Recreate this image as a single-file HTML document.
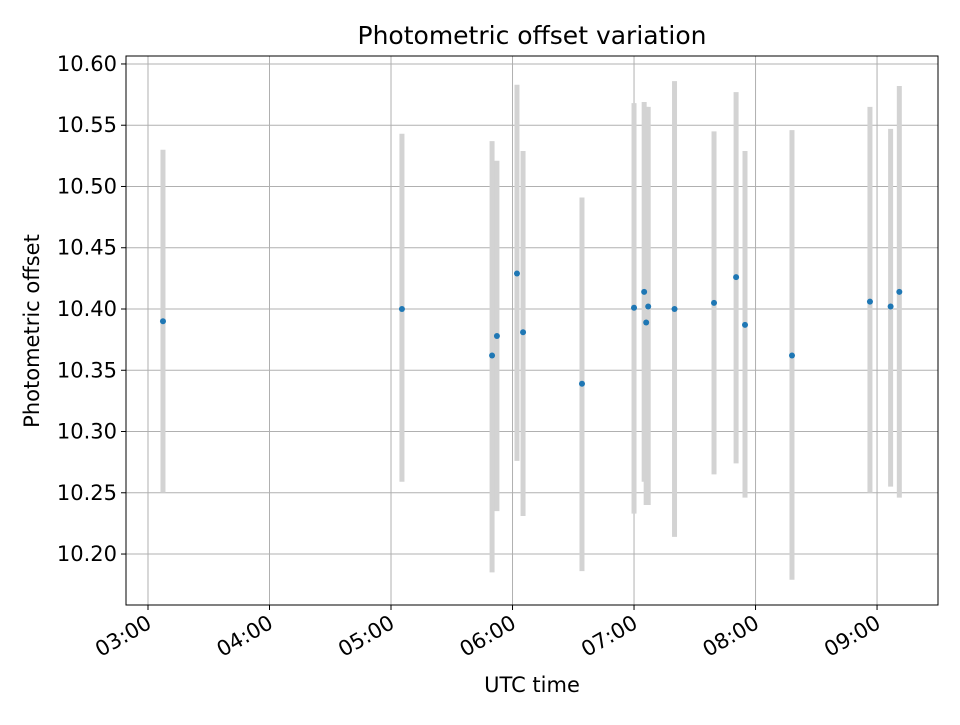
<!DOCTYPE html>
<html><head><meta charset="utf-8"><style>
body{margin:0;background:#fff;font-family:"Liberation Sans","DejaVu Sans",sans-serif}
</style></head><body>
<svg id="c" width="960" height="720" xmlns="http://www.w3.org/2000/svg" font-family="DejaVu Sans, Liberation Sans, sans-serif">
<rect width="960" height="720" fill="#fff"/>
<g id="grid"></g><g id="bars"></g><g id="pts"></g><g id="axes"></g>
<text x="532" y="44" text-anchor="middle" font-size="25">Photometric offset variation</text>
<text x="532" y="692" text-anchor="middle" font-size="21">UTC time</text>
<text transform="translate(39,331) rotate(-90)" text-anchor="middle" font-size="21">Photometric offset</text>
</svg>
<script>
// minutes after 03:00
const times=[7.4,125.4,169.9,172.3,182.2,185.2,214.3,240,245,246,247,260,279.5,290.4,294.8,318,356.5,366.7,371];
const values=[10.390,10.400,10.362,10.378,10.429,10.381,10.339,10.401,10.414,10.389,10.402,10.400,10.405,10.426,10.387,10.362,10.406,10.402,10.414];
const errHigh=[10.530,10.543,10.537,10.521,10.583,10.529,10.491,10.568,10.569,10.565,10.565,10.586,10.545,10.577,10.529,10.546,10.565,10.547,10.582];
const errLow=[10.250,10.259,10.185,10.235,10.276,10.231,10.186,10.233,10.259,10.240,10.240,10.214,10.265,10.274,10.246,10.179,10.250,10.255,10.246];
const xTickMin=[0,60,120,180,240,300,360];
const xTickLabels=["03:00","04:00","05:00","06:00","07:00","08:00","09:00"];
const yTicks=[10.20,10.25,10.30,10.35,10.40,10.45,10.50,10.55,10.60];
const L=126,R=938,T=56,B=605;
const xMin=-10.86,xMax=390.1,yMin=10.1584,yMax=10.6065;
const X=m=>L+(m-xMin)/(xMax-xMin)*(R-L);
const Y=v=>B-(v-yMin)/(yMax-yMin)*(B-T);
const NS="http://www.w3.org/2000/svg";
function mk(p,t,a){const e=document.createElementNS(NS,t);for(const k in a)e.setAttribute(k,a[k]);p.appendChild(e);return e;}
const g=document.getElementById('grid'),ax=document.getElementById('axes'),bs=document.getElementById('bars'),ps=document.getElementById('pts');
xTickMin.forEach((m,i)=>{const x=X(m);
 const l=mk(g,'line',{x1:x,x2:x,y1:T,y2:B,stroke:'#b0b0b0','stroke-width':1});
 
 
 mk(ax,'line',{x1:x,x2:x,y1:B,y2:B+5,stroke:'#000'});
 const t=mk(ax,'text',{x:0,y:0,'font-size':21,'text-anchor':'end',transform:`translate(${x+5},${B+22}) rotate(-30)`});
 t.textContent=xTickLabels[i];
 
 
});
yTicks.forEach(v=>{const y=Y(v);
 const l=mk(g,'line',{x1:L,x2:R,y1:y,y2:y,stroke:'#b0b0b0','stroke-width':1});
 
 
 mk(ax,'line',{x1:L-5,x2:L,y1:y,y2:y,stroke:'#000'});
 const t=mk(ax,'text',{x:L-9,y:y+7,'font-size':21,'text-anchor':'end'});
 t.textContent=v.toFixed(2);
 
 
});
mk(ax,'rect',{x:L,y:T,width:R-L,height:B-T,fill:'none',stroke:'#000','stroke-width':1});
times.forEach((m,i)=>{const x=X(m);
 const b=mk(bs,'line',{x1:x,x2:x,y1:Y(errHigh[i]),y2:Y(errLow[i]),stroke:'#d3d3d3','stroke-width':5});
 
 
 const c=mk(ps,'circle',{cx:x,cy:Y(values[i]),r:3,fill:'#1f77b4'});
 
 
});
</script>
</body></html>
